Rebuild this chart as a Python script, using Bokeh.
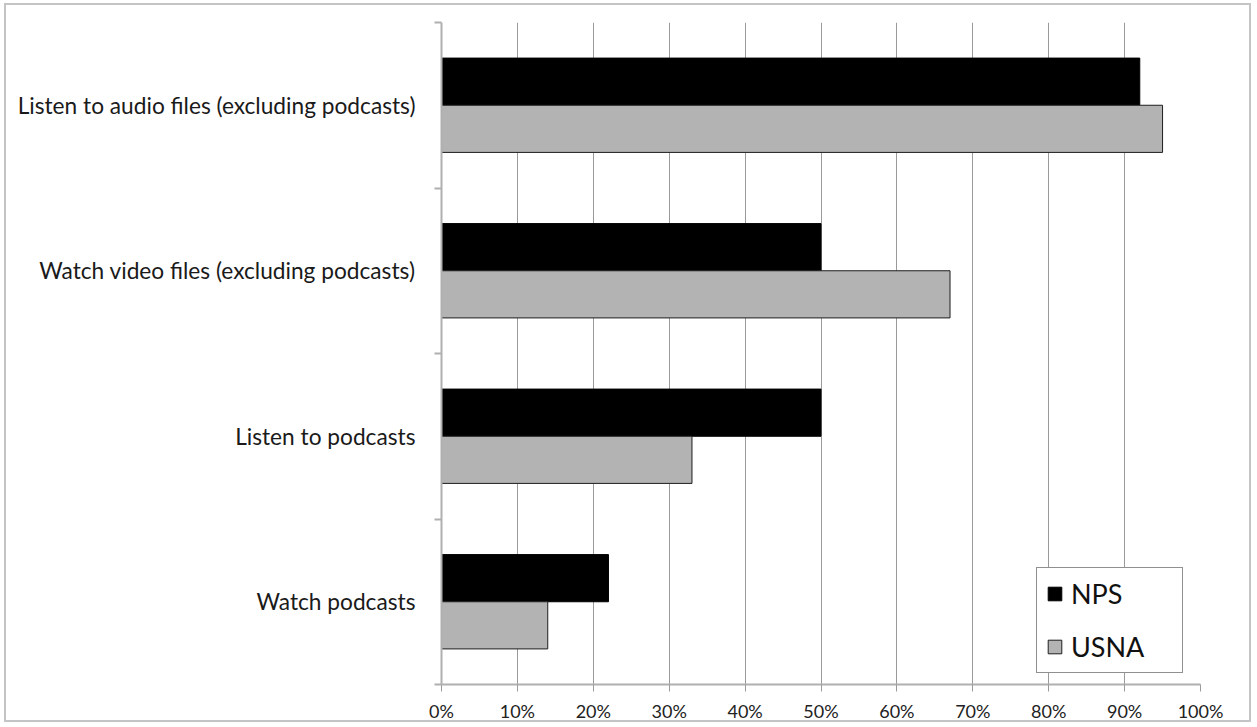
import numpy as np
from bokeh.plotting import figure
from bokeh.models import FixedTicker, NumeralTickFormatter, Range1d, ColumnDataSource
from bokeh.embed import file_html
from bokeh.resources import INLINE

categories = [
    "Listen to audio files (excluding podcasts)",
    "Watch video files (excluding podcasts)",
    "Listen to podcasts",
    "Watch podcasts",
]
nps = [0.92, 0.50, 0.50, 0.22]
usna = [0.95, 0.67, 0.33, 0.14]
x_ticks = [0, 0.1, 0.2, 0.3, 0.4, 0.5, 0.6, 0.7, 0.8, 0.9, 1.0]

FONT = "Lato"
n = len(categories)
centers = n - np.arange(n) - 0.5
bar_h = 0.285

src = ColumnDataSource(dict(
    cat=categories,
    y_nps=centers + bar_h / 2,
    y_usna=centers - bar_h / 2,
    nps=nps,
    usna=usna,
))

p = figure(
    width=1247, height=719,
    output_backend="svg", toolbar_location=None,
    x_range=Range1d(0, 1), y_range=Range1d(0, n),
    min_border_left=435, min_border_right=53,
    min_border_top=17, min_border_bottom=40,
)
p.styles = {"position": "absolute", "left": "4px", "top": "3px",
            "border": "2px solid #c4c4c4"}
p.outline_line_color = None
p.background_fill_color = "white"

p.hbar(y="y_nps", right="nps", left=0, height=bar_h, source=src,
       fill_color="black", line_color="black", line_width=1,
       legend_label="NPS")
p.hbar(y="y_usna", right="usna", left=0, height=bar_h, source=src,
       fill_color="#b3b3b3", line_color="#1e1e1e", line_width=1,
       legend_label="USNA")

# grid
p.ygrid.grid_line_color = None
p.xgrid.ticker = FixedTicker(ticks=x_ticks)
p.xgrid.grid_line_color = "#9a9a9a"
p.xgrid.grid_line_width = 1

# x axis
xa = p.xaxis[0]
xa.ticker = FixedTicker(ticks=x_ticks)
xa.formatter = NumeralTickFormatter(format="0%")
xa.axis_line_color = "#b0b0b0"
xa.axis_line_width = 2
xa.major_tick_line_color = "#9a9a9a"
xa.major_tick_in = 0
xa.major_tick_out = 7
xa.minor_tick_line_color = None
xa.major_label_text_font = FONT
xa.major_label_text_font_size = "18px"
xa.major_label_text_color = "#222222"
xa.major_label_standoff = 8

# y axis
ya = p.yaxis[0]
ya.ticker = FixedTicker(ticks=list(centers), minor_ticks=list(range(n + 1)))
ya.major_label_overrides = {float(c): lab for c, lab in zip(centers, categories)}
ya.axis_line_color = "#b0b0b0"
ya.axis_line_width = 2
ya.major_tick_line_color = None
ya.major_tick_in = 0
ya.major_tick_out = 0
ya.minor_tick_line_color = "#b0b0b0"
ya.minor_tick_line_width = 2
ya.minor_tick_in = 0
ya.minor_tick_out = 7
ya.major_label_text_font = FONT
ya.major_label_text_font_size = "22.7px"
ya.major_label_text_color = "#1a1a1a"
ya.major_label_standoff = 19

# legend
lg = p.legend[0]
lg.location = (595, 11)
lg.border_line_color = "#222222"
lg.border_line_width = 1
lg.background_fill_color = "white"
lg.background_fill_alpha = 1
lg.padding = 9
lg.spacing = 20
lg.margin = 0
lg.glyph_width = 17
lg.glyph_height = 17
lg.label_height = 30
lg.label_width = 102
lg.label_standoff = 8
lg.label_text_font = FONT
lg.label_text_font_size = "27px"
lg.label_text_color = "#111111"

open("out.html", "w").write(file_html(p, INLINE))
